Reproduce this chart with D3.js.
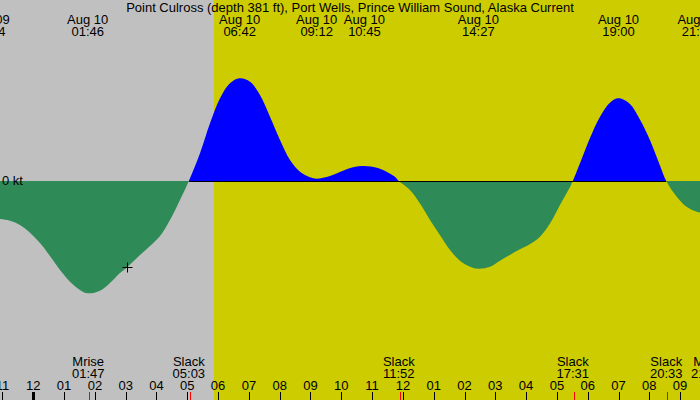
<!DOCTYPE html>
<html>
<head>
<meta charset="utf-8">
<script src="https://cdn.jsdelivr.net/npm/d3@7"></script>
<style>
  html, body { margin: 0; padding: 0; background: #fff; }
  svg { display: block; }
  text { font-family: "Liberation Sans", Arial, sans-serif; font-size: 13px; fill: #000; }
</style>
</head>
<body>
<svg id="chart" width="700" height="400"></svg>
<script>
// ---- Data (hours after Aug 10 00:00, speed in kt) ----
const title = "Point Culross (depth 381 ft), Port Wells, Prince William Sound, Alaska Current";
const hours = [-1.5, -1.081, -0.756, -0.432, -0.107, 0.217, 0.542, 0.867, 1.192, 1.516, 1.767, 2.166, 2.49, 2.815, 3.065,
  3.464, 3.789, 4.114, 4.438, 4.763, 5.05, 5.412, 5.737, 6.062, 6.386, 6.70, 7.036, 7.36, 7.685, 8.01, 8.334,
  8.659, 8.984, 9.2, 9.633, 10.055, 10.38, 10.75, 11.15, 11.47, 11.74, 11.867, 12.23, 12.55, 12.88, 13.2,
  13.53, 13.85, 14.18, 14.45, 14.83, 15.15, 15.47, 15.8, 16.13, 16.45, 16.78, 17.1, 17.43, 17.517, 17.75,
  18.07, 18.4, 18.72, 19.0, 19.37, 19.69, 20.02, 20.34, 20.55, 20.89, 21.21, 21.54, 21.8];
const speeds = [-0.37, -0.38, -0.397, -0.44, -0.517, -0.62, -0.75, -0.89, -1.007, -1.09, -1.123, -1.097, -1.02, -0.92, -0.857,
  -0.74, -0.65, -0.55, -0.39, -0.19, 0, 0.277, 0.577, 0.827, 0.977, 1.027, 0.993, 0.86, 0.643, 0.41, 0.21,
  0.093, 0.037, 0.023, 0.05, 0.103, 0.137, 0.15, 0.133, 0.093, 0.043, 0, -0.09, -0.223, -0.39, -0.54,
  -0.69, -0.797, -0.857, -0.877, -0.857, -0.797, -0.74, -0.683, -0.63, -0.557, -0.423, -0.24, -0.057, 0, 0.177,
  0.427, 0.643, 0.783, 0.827, 0.77, 0.617, 0.41, 0.16, 0, -0.157, -0.257, -0.307, -0.325];

// Top event labels (max / min current)
const topDates = ["Aug 09", "Aug 10", "Aug 10", "Aug 10", "Aug 10", "Aug 10", "Aug 10", "Aug 10"];
const topTimes = ["22:34", "01:46", "06:42", "09:12", "10:45", "14:27", "19:00", "21:35"];
const topHours = [-1.433, 1.767, 6.70, 9.2, 10.75, 14.45, 19.0, 21.583];

// Bottom events (slack, moon)
const botNames = ["Mrise", "Slack", "Slack", "Slack", "Slack", "Mset"];
const botTimes = ["01:47", "05:03", "11:52", "17:31", "20:33", "21:53"];
const botHours = [1.783, 5.05, 11.867, 17.517, 20.55, 21.883];

// Hour ticks
const tickHours = d3.range(-1, 23);
const tickLabels = ["11","12","01","02","03","04","05","06","07","08","09","10","11","12","01","02","03","04","05","06","07","08","09","10"];

// Daylight period and current marker
const sunrise = 5.857, sunset = 30;
const markerHour = 3.05, markerSpeed = -0.857;
const domainHours = [-1.081, 21.646];

// ---- Drawing ----
const W = 700, H = 400;
const svg = d3.select("#chart");
const x = d3.scaleLinear().domain(domainHours).range([0, W]);
const y = d3.scaleLinear().domain([-2, 2]).range([381, -19]);
const data = hours.map((h, i) => ({ h, v: speeds[i] }));

// Background night / day
svg.append("rect").attr("x", 0).attr("y", 0).attr("width", W).attr("height", H).attr("fill", "#c0c0c0");
svg.append("rect").attr("x", Math.round(x(sunrise))).attr("y", 0)
  .attr("width", Math.min(W, x(sunset)) - Math.round(x(sunrise))).attr("height", H).attr("fill", "#cccc00");

// Clip paths for positive / negative parts
const defs = svg.append("defs");
defs.append("clipPath").attr("id", "pos").append("rect")
  .attr("x", 0).attr("y", 0).attr("width", W).attr("height", y(0));
defs.append("clipPath").attr("id", "neg").append("rect")
  .attr("x", 0).attr("y", y(0)).attr("width", W).attr("height", H - y(0));

const area = d3.area().curve(d3.curveCatmullRom.alpha(0.5))
  .x(d => x(d.h)).y0(y(0)).y1(d => y(d.v));

svg.append("path").datum(data).attr("d", area).attr("fill", "#0000ff").attr("clip-path", "url(#pos)");
svg.append("path").datum(data).attr("d", area).attr("fill", "#2e8b57").attr("clip-path", "url(#neg)");

// Zero line between first and last slack
svg.append("line")
  .attr("x1", x(botHours[1])).attr("x2", x(botHours[4]))
  .attr("y1", y(0) + 0.5).attr("y2", y(0) + 0.5)
  .attr("stroke", "#000").attr("stroke-width", 1);

svg.append("text").attr("x", 2).attr("y", 185).text("0 kt");

// Current time marker "+"
const mx = Math.round(x(markerHour)) + 0.5, my = Math.round(y(markerSpeed)) + 0.5;
svg.append("line").attr("x1", mx - 5).attr("x2", mx + 5).attr("y1", my).attr("y2", my).attr("stroke", "#000");
svg.append("line").attr("x1", mx).attr("x2", mx).attr("y1", my - 5).attr("y2", my + 5).attr("stroke", "#000");

// Title
svg.append("text").attr("x", W / 2).attr("y", 12).attr("text-anchor", "middle").text(title);

// Top labels
topHours.forEach((h, i) => {
  svg.append("text").attr("x", x(h)).attr("y", 24).attr("text-anchor", "middle").text(topDates[i]);
  svg.append("text").attr("x", x(h)).attr("y", 36).attr("text-anchor", "middle").text(topTimes[i]);
});

// Bottom event labels and red ticks
botHours.forEach((h, i) => {
  svg.append("text").attr("x", x(h)).attr("y", 366).attr("text-anchor", "middle").text(botNames[i]);
  svg.append("text").attr("x", x(h)).attr("y", 378).attr("text-anchor", "middle").text(botTimes[i]);
});

// Hour axis
const axis = svg.append("g");
tickHours.forEach((h, i) => {
  const tx = Math.round(x(h));
  axis.append("text").attr("x", x(h)).attr("y", 390).attr("text-anchor", "middle").text(tickLabels[i]);
  const isMidnight = (h % 24 === 0);
  axis.append("rect").attr("x", isMidnight ? tx - 1 : tx).attr("y", 392)
    .attr("width", isMidnight ? 3 : 1).attr("height", 8).attr("fill", "#000");
});
botHours.forEach(h => {
  axis.append("rect").attr("x", Math.round(x(h)) + 1).attr("y", 392).attr("width", 1).attr("height", 8).attr("fill", "#ff0000");
});
</script>
</body>
</html>
